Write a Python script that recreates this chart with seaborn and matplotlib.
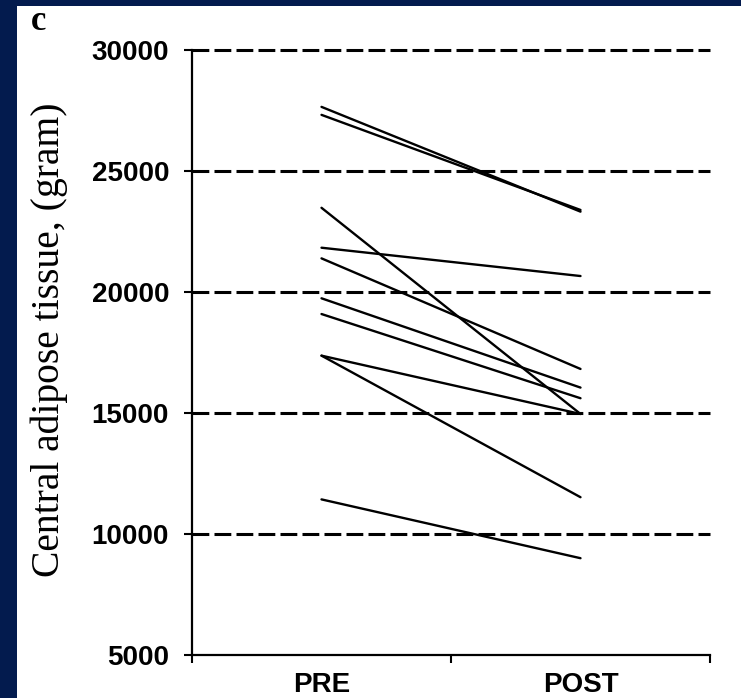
import matplotlib
matplotlib.use("Agg")
import matplotlib.pyplot as plt
import pandas as pd
import seaborn as sns
from matplotlib.patches import Rectangle

sns.set_theme(style="white")

# central adipose tissue (gram) per subject, before and after
subjects = list(range(1, 11))
pre = [27650, 27320, 23480, 21830, 21390, 19740, 19090, 17370, 17370, 11430]
post = [23320, 23390, 14960, 20660, 16820, 16050, 15610, 14960, 11520, 9000]
phases = ["PRE", "POST"]
yticks = [5000, 10000, 15000, 20000, 25000, 30000]

df = pd.DataFrame({
    "subject": subjects * 2,
    "phase": [phases[0]] * len(pre) + [phases[1]] * len(post),
    "value": pre + post,
})

fig = plt.figure(figsize=(7.41, 6.98), dpi=100, facecolor="#031b4e")
fig.patches.append(Rectangle((17 / 741, 0), 1, 1 - 6 / 698, transform=fig.transFigure,
                             facecolor="white", edgecolor="none", zorder=-1))
ax = fig.add_axes([192 / 741, 1 - 655 / 698, (710 - 192) / 741, (655 - 50) / 698])
ax.set_zorder(1)
ax.set_facecolor("white")

sns.lineplot(data=df, x="phase", y="value", units="subject", estimator=None,
             color="black", linewidth=1.7, ax=ax, zorder=3)

for y in yticks[1:]:
    ax.axhline(y, color="black", linewidth=2.2, linestyle=(0, (5.5, 1.7)), zorder=2,
               clip_on=False)

ax.set_xlim(-0.5, 1.5)
ax.set_ylim(5000, 30000)
ax.set_yticks(yticks)
ax.set_yticklabels([str(v) for v in yticks], fontsize=20, fontweight="bold",
                   family="Liberation Sans")
ax.set_xticks([0, 1])
ax.set_xticklabels(phases, fontsize=20, fontweight="bold", family="Liberation Sans")
ax.set_xticks([-0.5, 0.5, 1.5], minor=True)
ax.tick_params(axis="x", which="major", length=0, pad=12)
ax.tick_params(axis="x", which="minor", length=6, width=1.5, color="black", direction="out",
               bottom=True)
ax.tick_params(axis="y", length=6, width=1.5, color="black", direction="out", pad=10.5, left=True)
ax.tick_params(labelcolor="black")

for s in ["top", "right"]:
    ax.spines[s].set_visible(False)
for s in ["left", "bottom"]:
    ax.spines[s].set_color("black")
    ax.spines[s].set_linewidth(1.6)

ax.set_xlabel("")
ax.set_ylabel("Central adipose tissue, (gram)", fontsize=28.5, family="Liberation Serif",
              color="black")
ax.yaxis.set_label_coords(-0.24, 0.521)

fig.text(39 / 741, 1 - 22 / 698, "c", fontsize=25, fontweight="bold", color="black",
         family="Liberation Serif", ha="center", va="center")

fig.savefig("out.png", dpi=100, facecolor=fig.get_facecolor())
